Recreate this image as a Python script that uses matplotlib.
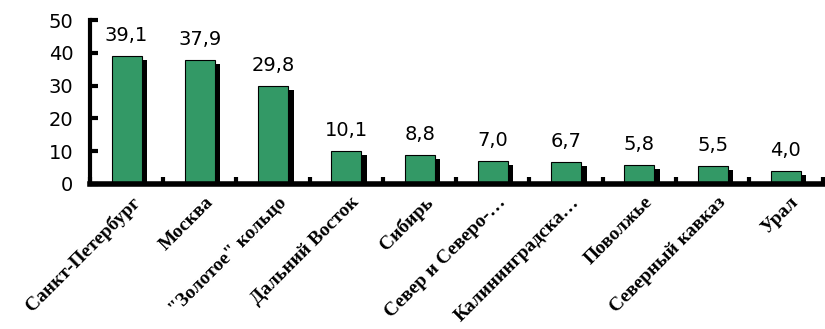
import numpy as np
import matplotlib.pyplot as plt
import matplotlib.patheffects as pe

regions = ['Санкт-Петербург', 'Москва', '"Золотое" кольцо', 'Дальний Восток',
           'Сибирь', 'Север и Северо-…', 'Калининградска…', 'Поволжье',
           'Северный кавказ', 'Урал']
values = [39.1, 37.9, 29.8, 10.1, 8.8, 7.0, 6.7, 5.8, 5.5, 4.0]
value_labels = ['39,1', '37,9', '29,8', '10,1', '8,8', '7,0', '6,7', '5,8', '5,5', '4,0']

fig = plt.figure(figsize=(8.25, 3.29), dpi=100)
ax = fig.add_axes([0.109, 0.441, 0.888, 0.498])

x = np.arange(len(values))
bars = ax.bar(x, values, width=0.41, color='#339966', edgecolor='black', linewidth=0.8)
for b in bars:
    b.set_path_effects([pe.SimplePatchShadow(offset=(4, -3), shadow_rgbFace='black', alpha=1.0),
                        pe.Normal()])

for xi, v, lab in zip(x, values, value_labels):
    ax.text(xi, v + 3.3, lab, ha='center', va='bottom', fontsize=14, family='DejaVu Sans')

ax.set_xlim(-0.5, len(values) - 0.5)
ax.set_ylim(0, 50)
ax.set_yticks(range(0, 51, 10))
ax.tick_params(axis='y', direction='in', length=6, width=3, labelsize=14, pad=12)

ax.set_xticks(np.arange(len(values) + 1) - 0.5, minor=False)
ax.set_xticklabels([])
ax.tick_params(axis='x', direction='in', length=5, width=3)
ax.set_xticks(x + 0.06, minor=True)
ax.set_xticklabels(regions, minor=True, rotation=45, ha='right', rotation_mode='anchor',
                   family='Liberation Serif', fontsize=14, fontweight='bold')
ax.tick_params(axis='x', which='minor', length=0, pad=7)

ax.spines['top'].set_visible(False)
ax.spines['right'].set_visible(False)
ax.spines['left'].set_linewidth(3)
ax.spines['bottom'].set_linewidth(4)

fig.savefig('out.png', dpi=100)
